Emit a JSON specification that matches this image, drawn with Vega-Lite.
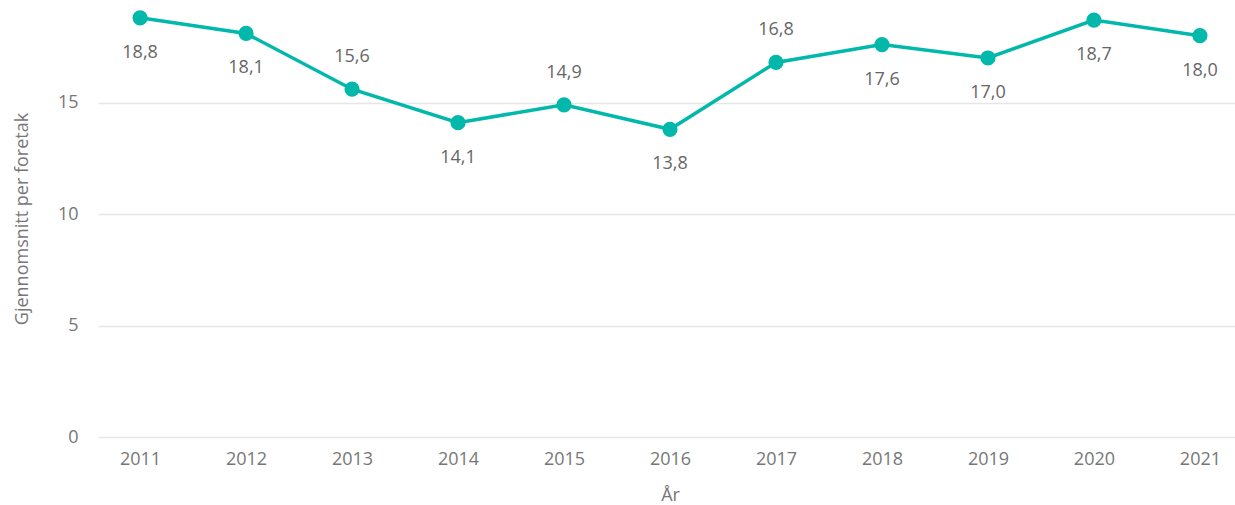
{
  "$schema": "https://vega.github.io/schema/vega-lite/v6.json",
  "autosize": "none",
  "width": 1144,
  "height": 437,
  "padding": {"left": 98, "top": 0, "right": 0, "bottom": 68},
  "background": "white",
  "config": {
    "view": {"stroke": null},
    "font": "Open Sans",
    "locale": {
      "number": {"decimal": ",", "thousands": " ", "grouping": [3], "currency": ["", " kr"]}
    }
  },
  "data": {
    "values": [
      {"year": "2011", "value": 18.8},
      {"year": "2012", "value": 18.1},
      {"year": "2013", "value": 15.6},
      {"year": "2014", "value": 14.1},
      {"year": "2015", "value": 14.9},
      {"year": "2016", "value": 13.8},
      {"year": "2017", "value": 16.8},
      {"year": "2018", "value": 17.6},
      {"year": "2019", "value": 17.0},
      {"year": "2020", "value": 18.7},
      {"year": "2021", "value": 18.0}
    ]
  },
  "encoding": {
    "x": {
      "field": "year",
      "type": "ordinal",
      "scale": {"type": "point", "padding": 0.397},
      "axis": {
        "title": "År",
        "labelAngle": 0,
        "labelFontSize": 18,
        "labelColor": "#777777",
        "labelFont": "Open Sans",
        "labelPadding": 13,
        "ticks": false,
        "domain": false,
        "titleFontSize": 18,
        "titleFontWeight": "normal",
        "titleColor": "#777777",
        "titleFont": "Open Sans",
        "titlePadding": 18
      }
    },
    "y": {
      "field": "value",
      "type": "quantitative",
      "scale": {"domain": [0, 19.6], "nice": false},
      "axis": {
        "title": "Gjennomsnitt per foretak",
        "values": [0, 5, 10, 15],
        "labelFontSize": 18,
        "labelColor": "#777777",
        "labelFont": "Open Sans",
        "labelPadding": 20,
        "ticks": false,
        "domain": false,
        "gridColor": "#e6e6e6",
        "gridWidth": 1.5,
        "titleFontSize": 18,
        "titleFontWeight": "normal",
        "titleColor": "#777777",
        "titleFont": "Open Sans",
        "titlePadding": 26
      }
    }
  },
  "layer": [
    {
      "mark": {"type": "line", "color": "#01B8AA", "strokeWidth": 3.5}
    },
    {
      "mark": {"type": "point", "filled": true, "color": "#01B8AA", "size": 230, "opacity": 1}
    },
    {
      "transform": [{"filter": "indexof(['2013','2015','2017'], datum.year) < 0"}],
      "mark": {"type": "text", "dy": 35, "fontSize": 18, "fontWeight": 500, "color": "#666666", "font": "Open Sans"},
      "encoding": {"text": {"field": "value", "type": "quantitative", "format": ".1f"}}
    },
    {
      "transform": [{"filter": "indexof(['2013','2015','2017'], datum.year) >= 0"}],
      "mark": {"type": "text", "dy": -32, "fontSize": 18, "fontWeight": 500, "color": "#666666", "font": "Open Sans"},
      "encoding": {"text": {"field": "value", "type": "quantitative", "format": ".1f"}}
    }
  ]
}
